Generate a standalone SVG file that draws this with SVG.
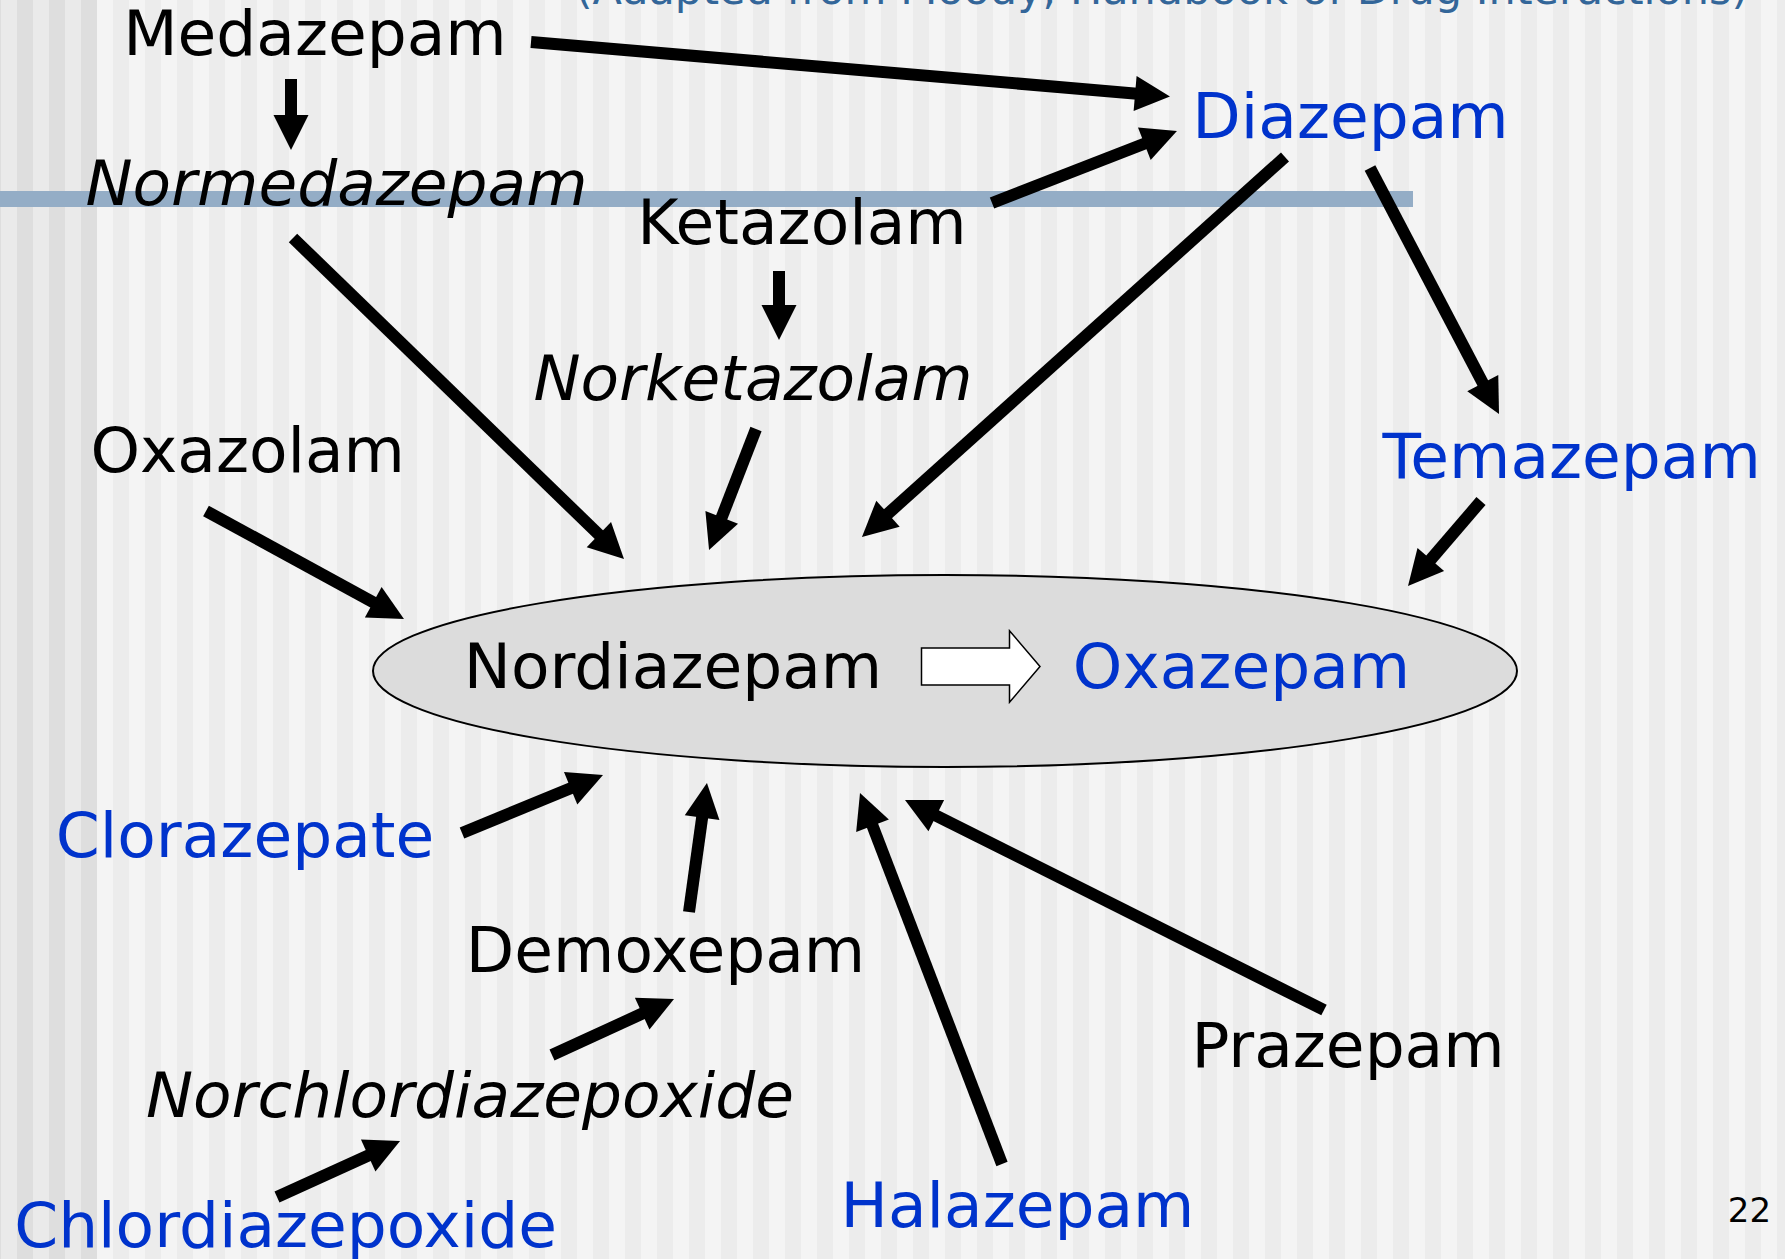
<svg xmlns="http://www.w3.org/2000/svg" width="1785" height="1259" viewBox="0 0 1785 1259">
<style>
.t{font-family:"DejaVu Sans","Verdana",sans-serif;font-size:63px;text-anchor:middle;fill:#000}
.i{font-style:italic}
.b{fill:#0033cc}
.c{stroke:#000;stroke-width:12;fill:none;marker-end:url(#ah)}
</style>
<defs>
<pattern id="stripes" patternUnits="userSpaceOnUse" x="17" y="0" width="32" height="1259">
<rect x="0" y="0" width="16" height="1259" fill="#ececec"/>
</pattern>
<pattern id="stripesL" patternUnits="userSpaceOnUse" x="17" y="0" width="32" height="1259">
<rect x="0" y="0" width="16" height="1259" fill="#dedede"/>
</pattern>
<marker id="ah" markerUnits="userSpaceOnUse" markerWidth="36" markerHeight="36" refX="2" refY="17.5" orient="auto" overflow="visible">
<path d="M0,0 L35,17.5 L0,35 Z" fill="#000"/>
</marker>
</defs>
<g id="background">
<rect x="0" y="0" width="1785" height="1259" fill="#f4f4f4"/>
<rect x="0" y="0" width="1785" height="1259" fill="url(#stripes)"/>
<rect x="0" y="0" width="97" height="1259" fill="#eaeaea"/>
<rect x="0" y="0" width="97" height="1259" fill="url(#stripesL)"/>
<rect x="0" y="191" width="1413" height="16" fill="#94adc6"/>
<text x="1162" y="4" class="t" style="font-size:43px;fill:#336699">(Adapted from Moody, Handbook of Drug Interactions)</text>
</g>
<g id="node-nordiazepam-oxazepam">
<ellipse cx="945" cy="671" rx="572" ry="96" fill="#dcdcdc" stroke="#000" stroke-width="2"/>
<text x="673" y="688" class="t">Nordiazepam</text>
<text x="1241.5" y="688" class="t b">Oxazepam</text>
</g>
<g id="node-medazepam"><text x="315" y="55" class="t">Medazepam</text></g>
<g id="node-normedazepam"><text x="336.5" y="205" class="t i">Normedazepam</text></g>
<g id="node-ketazolam"><text x="802" y="244" class="t">Ketazolam</text></g>
<g id="node-norketazolam"><text x="753" y="400" class="t i">Norketazolam</text></g>
<g id="node-oxazolam"><text x="247.7" y="472" class="t">Oxazolam</text></g>
<g id="node-diazepam"><text x="1350.5" y="138" class="t b">Diazepam</text></g>
<g id="node-temazepam"><text x="1571.7" y="478" class="t b">Temazepam</text></g>
<g id="node-clorazepate"><text x="245" y="857" class="t b">Clorazepate</text></g>
<g id="node-demoxepam"><text x="665.5" y="972" class="t">Demoxepam</text></g>
<g id="node-norchlordiazepoxide"><text x="470" y="1117" class="t i">Norchlordiazepoxide</text></g>
<g id="node-chlordiazepoxide"><text x="285.6" y="1247" class="t b">Chlordiazepoxide</text></g>
<g id="node-halazepam"><text x="1017.5" y="1227" class="t b">Halazepam</text></g>
<g id="node-prazepam"><text x="1348" y="1067" class="t">Prazepam</text></g>
<g id="page-number"><text x="1749.5" y="1222" class="t" style="font-size:34px">22</text></g>
<g id="connectors">
<line class="c" x1="531" y1="42" x2="1137.1" y2="93.7"/>
<line class="c" x1="291" y1="79" x2="291" y2="117"/>
<line class="c" x1="992" y1="203" x2="1146.2" y2="143"/>
<line class="c" x1="1285" y1="157" x2="886.5" y2="515"/>
<line class="c" x1="1370" y1="168" x2="1483.7" y2="384.8"/>
<line class="c" x1="293" y1="238" x2="600.3" y2="536"/>
<line class="c" x1="779" y1="271" x2="779" y2="307"/>
<line class="c" x1="756" y1="429" x2="721" y2="519.2"/>
<line class="c" x1="206" y1="511" x2="375" y2="603.2"/>
<line class="c" x1="1481" y1="501" x2="1429.5" y2="561"/>
<line class="c" x1="462" y1="833" x2="572.5" y2="787.5"/>
<line class="c" x1="689" y1="912" x2="702.4" y2="815.7"/>
<line class="c" x1="552" y1="1055" x2="644" y2="1012.8"/>
<line class="c" x1="277" y1="1197" x2="370" y2="1154.7"/>
<line class="c" x1="1002" y1="1164" x2="871.8" y2="823.8"/>
<line class="c" x1="1324" y1="1010" x2="934.5" y2="814.8"/>
<polygon points="921.5,648 1009.5,648 1009.5,630.7 1040,666.5 1009.5,702.3 1009.5,685 921.5,685" fill="#fff" stroke="#000" stroke-width="1.5"/>
</g>
</svg>
